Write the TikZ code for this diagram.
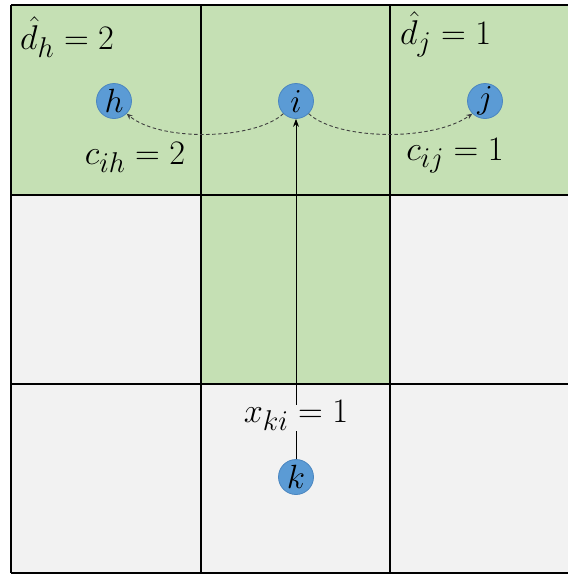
\documentclass[tikz,border=0pt]{standalone}
\usepackage{graphicx}
\usetikzlibrary{arrows.meta}
\definecolor{cellgreen}{HTML}{C5E0B4}
\definecolor{cellgray}{HTML}{F2F2F2}
\definecolor{nodeblue}{HTML}{5B9BD5}
\definecolor{nodeedge}{HTML}{4A86C0}
\newcommand{\biglab}[1]{\scalebox{1.38}{\Huge$#1$}}
\newcommand{\nodelab}[1]{\scalebox{1.35}{\Huge$#1$}}
\tikzset{
  vnode/.style={circle, fill=nodeblue, draw=nodeedge, line width=0.8pt, minimum size=35pt, inner sep=0pt},
  lab/.style={inner sep=1pt},
  gridline/.style={black, line width=1.5pt},
  dasharrow/.style={dash pattern=on 3.5pt off 2.5pt, line width=0.9pt, draw=black!75, -{Stealth[length=6pt,width=5pt]}},
  solidarrow/.style={line width=0.9pt, -{Stealth[length=8pt,width=6pt]}}
}
\begin{document}
\begin{tikzpicture}[x=1pt,y=-1pt]
\useasboundingbox (0,0) rectangle (568,574);
\begin{scope}
\clip (0,0) rectangle (568,574);
% cells
\fill[cellgreen] (11,5) rectangle (580,195);
\fill[cellgray] (11,195) rectangle (201,384);
\fill[cellgreen] (201,195) rectangle (390,384);
\fill[cellgray] (390,195) rectangle (580,384);
\fill[cellgray] (11,384) rectangle (580,573);
% grid
\draw[gridline] (11,5) -- (580,5);
\draw[gridline] (11,195) -- (580,195);
\draw[gridline] (11,384) -- (580,384);
\draw[gridline] (11,573) -- (580,573);
\draw[gridline] (11,5) -- (11,573);
\draw[gridline] (201,5) -- (201,573);
\draw[gridline] (390,5) -- (390,573);
\end{scope}
% nodes
\node[vnode] (h) at (114,101) {\nodelab{h}};
\node[vnode] (i) at (296,101) {\nodelab{i}};
\node[vnode] (j) at (485,101) {\nodelab{j}};
\node[vnode] (k) at (296,477) {\nodelab{k}};
% labels
\node[lab, anchor=west] (dh) at (19,37) {\biglab{\hat{d}_h = 2}};
\node[lab, anchor=west] (dj) at (399,34) {\biglab{\hat{d}_j = 1}};
\node[lab] (cih) at (135,157) {\biglab{c_{ih} = 2}};
\node[lab] (cij) at (455,156) {\biglab{c_{ij} = 1}};
\node[lab] (xki) at (296,415) {\biglab{x_{ki} = 1}};
% connectors
\draw[dasharrow] (i.south west) .. controls (255,140) and (160,142) .. (h.south east);
\draw[dasharrow] (i.south east) .. controls (337,140) and (432,142) .. (j.south west);
\draw[line width=0.9pt] (k.north) -- (k.north |- xki.south);
\draw[solidarrow] ([yshift=-6pt]i.south |- xki.north) -- (i.south);
\end{tikzpicture}
\end{document}
